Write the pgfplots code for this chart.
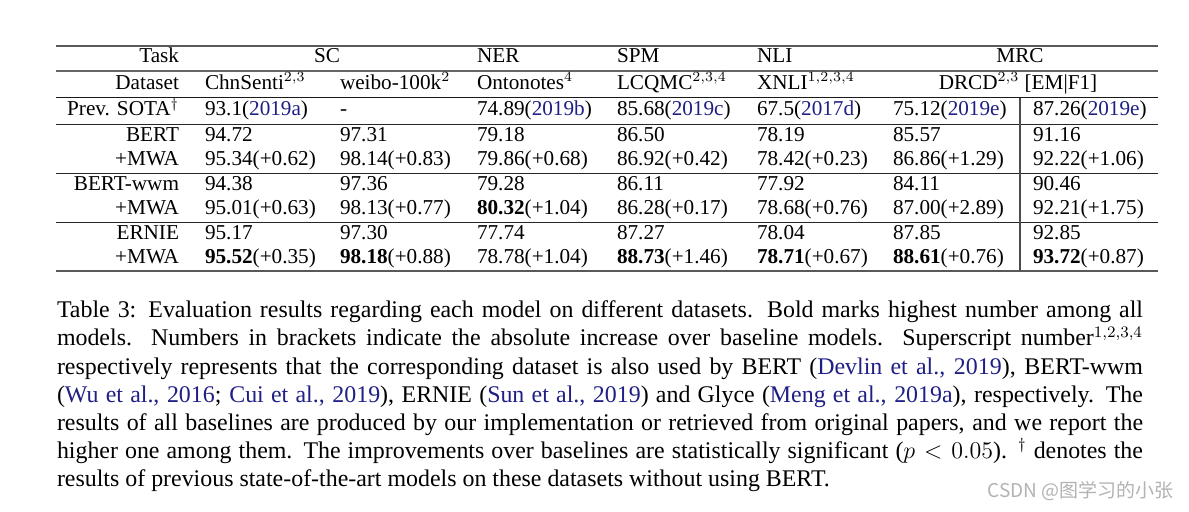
\documentclass[border=0pt]{standalone}
\usepackage{fontspec}
\setmainfont{Liberation Serif}
\newfontfamily\cjk{Noto Sans CJK SC}
\usepackage{pgfplots}
\pgfplotsset{compat=1.18}
\definecolor{citec}{rgb}{0.12,0.12,0.52}
\definecolor{wm}{rgb}{0.70,0.70,0.70}
\newcommand{\ct}[1]{\textcolor{citec}{#1}}
\newcommand{\tabfont}{\fontsize{10.6}{12}\selectfont}
\newcommand{\capfont}{\fontsize{11.95}{14}\selectfont}
\tikzset{
  tl/.style={anchor=base west, inner sep=0pt, outer sep=0pt, font=\tabfont},
  tr/.style={anchor=base east, inner sep=0pt, outer sep=0pt, font=\tabfont},
  tc/.style={anchor=base, inner sep=0pt, outer sep=0pt, font=\tabfont},
  cl/.style={anchor=base west, inner sep=0pt, outer sep=0pt, font=\capfont}}
\begin{document}
\begin{tikzpicture}
\begin{axis}[scale only axis, width=594.5pt, height=256pt,
  xmin=0, xmax=1189, ymin=0, ymax=512, y dir=reverse,
  hide axis, clip=false]
\path (axis cs:0,0) rectangle (axis cs:1189,512);
% rules
\addplot[black!65, line width=1pt, forget plot] coordinates {(56,46) (1158,46)};
\addplot[black!60, line width=1pt, forget plot] coordinates {(56,71) (1158,71)};
\addplot[black!90, line width=0.6pt, forget plot] coordinates {(56,97.7) (1158,97.7)};
\addplot[black!85, line width=0.55pt, forget plot] coordinates {(56,124.3) (1158,124.3)};
\addplot[black!85, line width=0.55pt, forget plot] coordinates {(56,173.3) (1158,173.3)};
\addplot[black!85, line width=0.55pt, forget plot] coordinates {(56,222.3) (1158,222.3)};
\addplot[black!65, line width=1pt, forget plot] coordinates {(56,270.7) (1158,270.7)};
\addplot[black!70, line width=0.6pt, forget plot] coordinates {(1020,97.7) (1020,270.7)};
% header rows
\node[tr] at (axis cs:179,62.5) {Task};
\node[tc] at (axis cs:327,62.5) {SC};
\node[tl] at (axis cs:477,62.5) {NER};
\node[tl] at (axis cs:617,62.5) {SPM};
\node[tl] at (axis cs:757,62.5) {NLI};
\node[tc] at (axis cs:1020,62.5) {MRC};
\node[tr] at (axis cs:179,89.5) {Dataset};
\node[tl] at (axis cs:205,89.5) {ChnSenti$^{2,3}$};
\node[tl] at (axis cs:340,89.5) {weibo-100k$^{2}$};
\node[tl] at (axis cs:477,89.5) {Ontonotes$^{4}$};
\node[tl] at (axis cs:617,89.5) {LCQMC$^{2,3,4}$};
\node[tl] at (axis cs:757,89.5) {XNLI$^{1,2,3,4}$};
\node[tc] at (axis cs:1018,89.5) {DRCD$^{2,3}$ [EM|F1]};
% Prev SOTA
\node[tr] at (axis cs:179,116) {Prev. SOTA$^\dagger$};
\node[tl] at (axis cs:205,116) {93.1(\ct{2019a})};
\node[tl] at (axis cs:340,116) {-};
\node[tl] at (axis cs:477,116) {74.89(\ct{2019b})};
\node[tl] at (axis cs:617,116) {85.68(\ct{2019c})};
\node[tl] at (axis cs:757,116) {67.5(\ct{2017d})};
\node[tl] at (axis cs:893,116) {75.12(\ct{2019e})};
\node[tl] at (axis cs:1033,116) {87.26(\ct{2019e})};
% BERT
\node[tr] at (axis cs:179,141.5) {BERT};
\node[tl] at (axis cs:205,141.5) {94.72};
\node[tl] at (axis cs:340,141.5) {97.31};
\node[tl] at (axis cs:477,141.5) {79.18};
\node[tl] at (axis cs:617,141.5) {86.50};
\node[tl] at (axis cs:757,141.5) {78.19};
\node[tl] at (axis cs:893,141.5) {85.57};
\node[tl] at (axis cs:1033,141.5) {91.16};
\node[tr] at (axis cs:179,165.5) {+MWA};
\node[tl] at (axis cs:205,165.5) {95.34(+0.62)};
\node[tl] at (axis cs:340,165.5) {98.14(+0.83)};
\node[tl] at (axis cs:477,165.5) {79.86(+0.68)};
\node[tl] at (axis cs:617,165.5) {86.92(+0.42)};
\node[tl] at (axis cs:757,165.5) {78.42(+0.23)};
\node[tl] at (axis cs:893,165.5) {86.86(+1.29)};
\node[tl] at (axis cs:1033,165.5) {92.22(+1.06)};
% BERT-wwm
\node[tr] at (axis cs:179,190.5) {BERT-wwm};
\node[tl] at (axis cs:205,190.5) {94.38};
\node[tl] at (axis cs:340,190.5) {97.36};
\node[tl] at (axis cs:477,190.5) {79.28};
\node[tl] at (axis cs:617,190.5) {86.11};
\node[tl] at (axis cs:757,190.5) {77.92};
\node[tl] at (axis cs:893,190.5) {84.11};
\node[tl] at (axis cs:1033,190.5) {90.46};
\node[tr] at (axis cs:179,214.5) {+MWA};
\node[tl] at (axis cs:205,214.5) {95.01(+0.63)};
\node[tl] at (axis cs:340,214.5) {98.13(+0.77)};
\node[tl] at (axis cs:477,214.5) {\textbf{80.32}(+1.04)};
\node[tl] at (axis cs:617,214.5) {86.28(+0.17)};
\node[tl] at (axis cs:757,214.5) {78.68(+0.76)};
\node[tl] at (axis cs:893,214.5) {87.00(+2.89)};
\node[tl] at (axis cs:1033,214.5) {92.21(+1.75)};
% ERNIE
\node[tr] at (axis cs:179,239.5) {ERNIE};
\node[tl] at (axis cs:205,239.5) {95.17};
\node[tl] at (axis cs:340,239.5) {97.30};
\node[tl] at (axis cs:477,239.5) {77.74};
\node[tl] at (axis cs:617,239.5) {87.27};
\node[tl] at (axis cs:757,239.5) {78.04};
\node[tl] at (axis cs:893,239.5) {87.85};
\node[tl] at (axis cs:1033,239.5) {92.85};
\node[tr] at (axis cs:179,264) {+MWA};
\node[tl] at (axis cs:205,264) {\textbf{95.52}(+0.35)};
\node[tl] at (axis cs:340,264) {\textbf{98.18}(+0.88)};
\node[tl] at (axis cs:477,264) {78.78(+1.04)};
\node[tl] at (axis cs:617,264) {\textbf{88.73}(+1.46)};
\node[tl] at (axis cs:757,264) {\textbf{78.71}(+0.67)};
\node[tl] at (axis cs:893,264) {\textbf{88.61}(+0.76)};
\node[tl] at (axis cs:1033,264) {\textbf{93.72}(+0.87)};
% caption
\node[cl] at (axis cs:57,317.7) {\makebox[543pt][s]{Table 3: Evaluation results regarding each model on different datasets. Bold marks highest number among all}};
\node[cl] at (axis cs:57,345.9) {\makebox[543pt][s]{models. Numbers in brackets indicate the absolute increase over baseline models. Superscript number$^{1,2,3,4}$}};
\node[cl] at (axis cs:57,374.1) {\makebox[543pt][s]{respectively represents that the corresponding dataset is also used by BERT (\ct{Devlin et al., 2019}), BERT-wwm}};
\node[cl] at (axis cs:57,402.3) {\makebox[543pt][s]{(\ct{Wu et al., 2016}; \ct{Cui et al., 2019}), ERNIE (\ct{Sun et al., 2019}) and Glyce (\ct{Meng et al., 2019a}), respectively. The}};
\node[cl] at (axis cs:57,430.5) {\makebox[543pt][s]{results of all baselines are produced by our implementation or retrieved from original papers, and we report the}};
\node[cl] at (axis cs:57,458.5) {\makebox[543pt][s]{higher one among them. The improvements over baselines are statistically significant ($p<0.05$). $^\dagger$ denotes the}};
\node[cl] at (axis cs:57,486.7) {results of previous state-of-the-art models on these datasets without using BERT.};
% watermark
\node[anchor=base east, inner sep=0pt, text=wm, font=\cjk\fontsize{9.5}{11}\selectfont] at (axis cs:1174,498) {CSDN @图学习的小张};
\end{axis}
\end{tikzpicture}
\end{document}
